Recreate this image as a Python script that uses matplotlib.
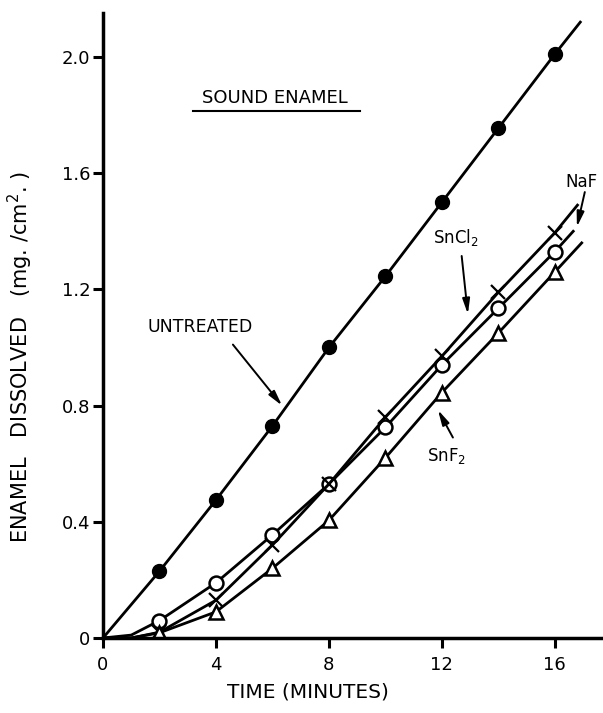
import matplotlib
matplotlib.use("Agg")
import matplotlib.pyplot as plt

# ── Data ────────────────────────────────────────────────────────────────────
TIMES = [2, 4, 6, 8, 10, 12, 14, 16]

UNTREATED = [0.23, 0.475, 0.73, 1.00, 1.245, 1.50, 1.755, 2.01]
NAF       = [0.06, 0.19, 0.355, 0.53, 0.725, 0.94, 1.135, 1.33]    # open circles
SNCL2     = [0.02, 0.13, 0.32, 0.53, 0.76, 0.97, 1.19, 1.395]      # crosses
SNF2      = [0.018, 0.09, 0.24, 0.405, 0.62, 0.845, 1.05, 1.26]    # triangles

# hand-drawn curves: start at origin, run a little past the last point
UNTREATED_T = [0] + TIMES + [16.9]
UNTREATED_C = [0] + UNTREATED + [2.12]
NAF_T   = [0, 1] + TIMES + [16.65]
NAF_C   = [0, 0.01] + NAF + [1.40]
SNCL2_T = [0, 1] + TIMES + [16.8]
SNCL2_C = [0, 0.0] + SNCL2 + [1.49]
SNF2_T  = [0, 1] + TIMES + [16.95]
SNF2_C  = [0, 0.0] + SNF2 + [1.36]

X_TICKS = [0, 4, 8, 12, 16]
Y_TICKS = [0, 0.4, 0.8, 1.2, 1.6, 2.0]
Y_TICK_LABELS = ["0", "0.4", "0.8", "1.2", "1.6", "2.0"]

plt.rcParams["font.family"] = ["DejaVu Sans"]

fig = plt.figure(figsize=(6.03, 7.13), dpi=100)
ax = fig.add_axes([0.1708, 0.1052, 0.829, 0.876])

LW = 2.0
ax.plot(UNTREATED_T, UNTREATED_C, color="black", lw=LW)
ax.plot(TIMES, UNTREATED, "o", color="black", ms=10)

ax.plot(NAF_T, NAF_C, color="black", lw=LW)
ax.plot(TIMES, NAF, "o", mfc="white", mec="black", mew=1.8, ms=10)

ax.plot(SNCL2_T, SNCL2_C, color="black", lw=LW)
ax.plot(TIMES, SNCL2, "x", color="black", mew=1.6, ms=10)

ax.plot(SNF2_T, SNF2_C, color="black", lw=LW)
ax.plot(TIMES, SNF2, "^", mfc="white", mec="black", mew=1.8, ms=10)

ax.set_xlim(0, 17.7)
ax.set_ylim(0, 2.15)
ax.set_xticks(X_TICKS)
ax.set_yticks(Y_TICKS)
ax.set_yticklabels(Y_TICK_LABELS)
for s in ("top", "right"):
    ax.spines[s].set_visible(False)
for s in ("left", "bottom"):
    ax.spines[s].set_linewidth(2.5)
ax.tick_params(axis="both", direction="out", length=7, width=2.2, labelsize=13)
ax.tick_params(axis="x", pad=6)
ax.tick_params(axis="y", pad=2)

# labels
fig.text(20 / 603, 1 - 357 / 713, "ENAMEL   DISSOLVED   (mg. /cm$^2$. )",
         rotation=90, ha="center", va="center", fontsize=15)
fig.text(308 / 603, 1 - 692 / 713, "TIME (MINUTES)", ha="center", va="center",
         fontsize=14.5)

# title-ish label with underline
ax.text(6.1, 1.86, "SOUND ENAMEL", ha="center", va="center", fontsize=13)
ax.plot([3.2, 9.1], [1.814, 1.814], color="black", lw=1.5, clip_on=False)

arrow = dict(arrowstyle="-|>,head_length=0.9,head_width=0.22", color="black",
             lw=1.4, shrinkA=0, shrinkB=0)

ax.text(3.45, 1.07, "UNTREATED", ha="center", va="center", fontsize=12.5)
ax.annotate("", xy=(6.34, 0.80), xytext=(4.6, 1.01), arrowprops=arrow)

ax.text(12.5, 1.38, "SnCl$_2$", ha="center", va="center", fontsize=12)
ax.annotate("", xy=(12.92, 1.115), xytext=(12.7, 1.315), arrowprops=arrow)

ax.text(16.95, 1.57, "NaF", ha="center", va="center", fontsize=12)
ax.annotate("", xy=(16.78, 1.415), xytext=(17.06, 1.535), arrowprops=arrow)

ax.text(12.15, 0.625, "SnF$_2$", ha="center", va="center", fontsize=12)
ax.annotate("", xy=(11.86, 0.785), xytext=(12.39, 0.69), arrowprops=arrow)

fig.savefig("out.png", dpi=100)
